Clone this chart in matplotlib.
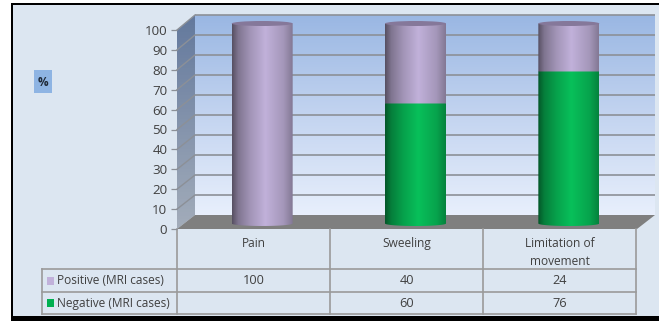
import numpy as np
import matplotlib
matplotlib.use("Agg")
import matplotlib.pyplot as plt
from matplotlib.patches import Polygon, Rectangle, Ellipse
from matplotlib.colors import LinearSegmentedColormap

# Chart data
categories = ["Pain", "Sweeling", "Limitation of\nmovement"]
positive = [100, 40, 24]
negative = [None, 60, 76]
series_names = ["Positive (MRI cases)", "Negative (MRI cases)"]
value_ticks = list(range(0, 101, 10))

W, H = 659, 321
plt.rcParams["font.family"] = ["Open Sans", "DejaVu Sans"]
TEXT = "#404040"
GRID = "#8c9097"
TABLE = "#9a9a9a"
PANEL = "#dce6f1"
PURPLE = "#c1b1da"
GREEN = "#08c05a"

fig = plt.figure(figsize=(W / 100, H / 100), dpi=100, facecolor="white")


def axes_px(x0, y_top, x1, y_bottom, z):
    """Axes placed by pixel edges, measured from the top-left of the figure."""
    ax = fig.add_axes([x0 / W, 1 - y_bottom / H, (x1 - x0) / W, (y_bottom - y_top) / H])
    ax.set_zorder(z)
    ax.patch.set_alpha(0)
    return ax


# Canvas in pixel units for the frame, walls, floor and data table
bg = axes_px(0, 0, W, H, 0)
bg.axis("off")

bg.add_patch(Rectangle((11, 4), W - 11, 313, fc=PANEL, ec="none"))
bg.add_patch(Rectangle((11, 3), 1.6, 318, fc="black", ec="none", zorder=4))
bg.add_patch(Rectangle((11, 3), W - 11, 2, fc="black", ec="none", zorder=4))
bg.add_patch(Rectangle((11, 316), W - 11, 4.5, fc="black", ec="none", zorder=4))

# Left side wall with a vertical gradient
side_cmap = LinearSegmentedColormap.from_list("side", ["#64799d", "#a2acba"])
im = bg.imshow(np.linspace(0, 1, 64)[:, None], extent=(177, 195, 229, 15), cmap=side_cmap,
               aspect="auto", zorder=1)
im.set_clip_path(Polygon([(177, 30), (195, 15), (195, 215), (177, 229)],
                         transform=bg.transData))
bg.set_xlim(0, W)
bg.set_ylim(H, 0)

# Floor
bg.add_patch(Polygon([(177, 229), (195, 215), (655, 215), (637, 229)], fc="#7f7f7f", ec="none",
                     zorder=1))

# Back wall with gridlines
back = axes_px(195, 15, 655, 215, 1)
back.axis("off")
wall_cmap = LinearSegmentedColormap.from_list("wall", ["#e8effc", "#c3d4f0", "#9ab7e3"])
back.imshow(np.linspace(0, 1, 128)[:, None], extent=(0, 1, 0, 100), origin="lower",
            cmap=wall_cmap, aspect="auto", zorder=0)
back.set_xlim(0, 1)
back.set_ylim(0, 100)
back.hlines([v for v in value_ticks if v > 0], 0, 1, color=GRID, lw=1.2, zorder=1, clip_on=False)

# Gridline continuation across the side wall
for v in value_ticks[1:]:
    bg.plot([177, 195], [229 - 1.99 * v, 215 - 2.0 * v], color=GRID, lw=1.0, zorder=2)

# Value axis along the front edge
front = axes_px(177, 30, 178, 229, 2)
front.set_xticks([])
front.set_ylim(0, 100)
front.set_yticks(value_ticks)
front.tick_params(axis="y", length=4, width=0.9, color=GRID, labelcolor=TEXT, labelsize=9.6, pad=3)
for s in front.spines.values():
    s.set_visible(False)

# Cylinders: one unit of value covers two pixels; the value range leaves room for the end caps
cyl = axes_px(185.5, 13.5, 645.5, 233.5, 3)
BAR_W = 61 / (460 / 3)
CAP_H = 2.5 / 2.0  # half height of the end ellipses, in value units
cyl.axis("off")


def shaded(base):
    c = np.array(matplotlib.colors.to_rgb(base))
    stops = [(0.0, 0.45), (0.1, 0.66), (0.3, 0.84), (0.55, 1.0), (0.85, 0.85), (1.0, 0.68)]
    return LinearSegmentedColormap.from_list("shade", [(p, c * k) for p, k in stops])


def segment(x, lo, hi, base, z):
    """One cylinder section with a rounded lower edge and a flat upper edge."""
    t = np.linspace(0, np.pi, 60)
    xs = x - BAR_W / 2 * np.cos(t)
    bottom = lo - CAP_H * np.sin(t)
    verts = np.r_[np.c_[xs, bottom], [[x + BAR_W / 2, hi], [x - BAR_W / 2, hi]]]
    im = cyl.imshow(np.linspace(0, 1, 128)[None, :],
                    extent=(x - BAR_W / 2, x + BAR_W / 2, lo - 3, hi + 3),
                    cmap=shaded(base), aspect="auto", zorder=z)
    im.set_clip_path(Polygon(verts, transform=cyl.transData))


for i in range(len(categories)):
    neg = negative[i] or 0
    pos = positive[i]
    segment(i, neg, neg + pos, PURPLE, 2)
    if neg:
        segment(i, 0, neg, GREEN, 3)
    cyl.add_patch(Ellipse((i, neg + pos), BAR_W, 2 * CAP_H, fc="#85789a", ec="none", zorder=4))
cyl.set_xlim(-0.5, 2.5)
cyl.set_ylim(-5, 105)

# Data table below the plot
col_edges = [177, 330, 483, 636]
row_edges = [229, 269, 292, 314]
for x in col_edges:
    bg.plot([x, x], [row_edges[0], row_edges[-1]], color=TABLE, lw=1.2, zorder=2)
for y in row_edges[1:]:
    bg.plot([42, col_edges[-1]], [y, y], color=TABLE, lw=1.2, zorder=2)
bg.plot([42, 42], [row_edges[1], row_edges[-1]], color=TABLE, lw=1.2, zorder=2)

for i, name in enumerate(categories):
    cx = (col_edges[i] + col_edges[i + 1]) / 2
    for j, line in enumerate(name.split("\n")):
        bg.text(cx, 243.5 + 18 * j, line, ha="center", va="center", fontsize=8.6, color=TEXT)
    bg.text(cx, 281, str(positive[i]), ha="center", va="center", fontsize=9.2, color=TEXT)
    if negative[i] is not None:
        bg.text(cx, 303.5, str(negative[i]), ha="center", va="center", fontsize=9.2, color=TEXT)

for name, color, y in zip(series_names, [PURPLE, "#00b050"], [280.5, 303]):
    bg.add_patch(Rectangle((46.5, y - 4), 7.5, 8, fc=color, ec="none", zorder=2))
    bg.text(57, y, name, ha="left", va="center", fontsize=8.6, color=TEXT)

# Axis title chip
bg.add_patch(Rectangle((34, 70), 18, 23, fc="#8eb4e3", ec="none", zorder=2))
bg.text(43, 82, "%", ha="center", va="center", fontsize=8.5, fontweight="bold", color="#1f2a38",
        zorder=3)

fig.savefig("out.png", dpi=100)
